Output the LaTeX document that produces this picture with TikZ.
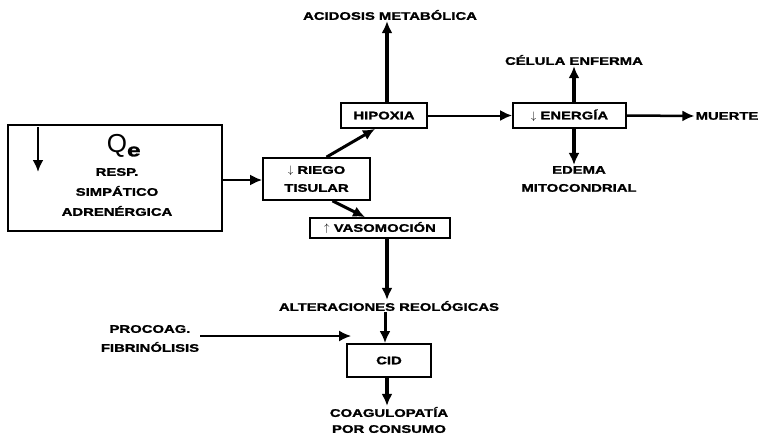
\documentclass[tikz,border=0pt]{standalone}
\usepackage{fontspec}
\setmainfont{Liberation Sans}
\newfontfamily\lab[FakeStretch=1.35,FakeBold=1.5]{Liberation Sans}
\usetikzlibrary{arrows.meta}
\tikzset{
  bx/.style n args={2}{draw, line width=1.8pt, minimum width=#1, minimum height=#2, inner sep=0pt},
  lbl/.style={font=\lab\bfseries\fontsize{11}{18}\selectfont, align=center, inner sep=1pt},
  arr/.style={-{Latex[length=12pt,width=11pt]}, line width=#1},
}
\begin{document}
\begin{tikzpicture}[x=1pt,y=-1pt]
\useasboundingbox (0,0) rectangle (775,442);

% big box
\node[bx={214pt}{106pt}] (big) at (115,178) {};
\node[inner sep=0pt, font=\fontsize{26}{26}\selectfont] (q) at (124,146) {Q\textsubscript{\lab\bfseries e}};
\coordinate (dA) at (38,127);
\coordinate (dB) at (38,172);
\draw[arr=2.5pt] (dA) -- (dB);
\node[lbl] (bigtxt) at (117,192) {RESP.\\[2pt]SIMPÁTICO\\[2pt]ADRENÉRGICA};

% boxes
\node[bx={107pt}{42pt}, lbl] (riego) at (316.5,179) {$\downarrow$ RIEGO\\TISULAR};
\node[bx={86pt}{25pt}, lbl] (hip) at (384,115.5) {HIPOXIA};
\node[bx={113pt}{25pt}, lbl] (ener) at (569.5,115.5) {$\downarrow$ ENERGÍA};
\node[bx={140pt}{20pt}, lbl] (vaso) at (380,228) {$\uparrow$ VASOMOCIÓN};
\node[bx={84pt}{33pt}, lbl] (cid) at (389,360.5) {CID};

% labels
\node[lbl] (acid) at (390,15) {ACIDOSIS METABÓLICA};
\node[lbl] (cel) at (574,60) {CÉLULA ENFERMA};
\node[lbl] (edema) at (579,179) {EDEMA\\MITOCONDRIAL};
\node[lbl] (muerte) at (727,116) {MUERTE};
\node[lbl] (alter) at (389,306) {ALTERACIONES REOLÓGICAS};
\node[lbl] (coag) at (389,420) {COAGULOPATÍA\\[-2pt]POR CONSUMO};
\node[lbl] (proc) at (150,338.5) {PROCOAG.\\[1pt]FIBRINÓLISIS};
\coordinate (pcEnd) at (351,336);

% connectors
\draw[arr=2pt] (big.east |- 0,180) -- (riego.west |- 0,180);
\draw[arr=3pt] ([xshift=10pt]riego.north) -- ([xshift=-9pt]hip.south);
\draw[arr=3pt] ([xshift=16pt]riego.south) -- ([xshift=-15pt]vaso.north);
\draw[arr=4pt] ([xshift=3pt]hip.north) -- ([xshift=3pt]hip.north |- acid.south);
\draw[arr=2pt] (hip.east) -- (ener.west);
\draw[arr=4pt] ([xshift=4.5pt]ener.north) -- ([xshift=4.5pt]ener.north |- cel.south);
\draw[arr=4pt] ([xshift=4.5pt]ener.south) -- ([xshift=4.5pt]ener.south |- edema.north);
\draw[arr=2.5pt] (ener.east) -- (muerte.west);
\draw[arr=4pt] ([xshift=7pt]vaso.south) -- ([xshift=7pt]vaso.south |- alter.north);
\draw[arr=3pt] ([xshift=-4pt]alter.south) -- ([xshift=-4pt]alter.south |- cid.north);
\draw[arr=1.5pt] (proc.east |- pcEnd) -- (pcEnd);
\draw[arr=4pt] ([xshift=-2pt]cid.south) -- ([xshift=-2pt]cid.south |- coag.north);
\end{tikzpicture}
\end{document}
